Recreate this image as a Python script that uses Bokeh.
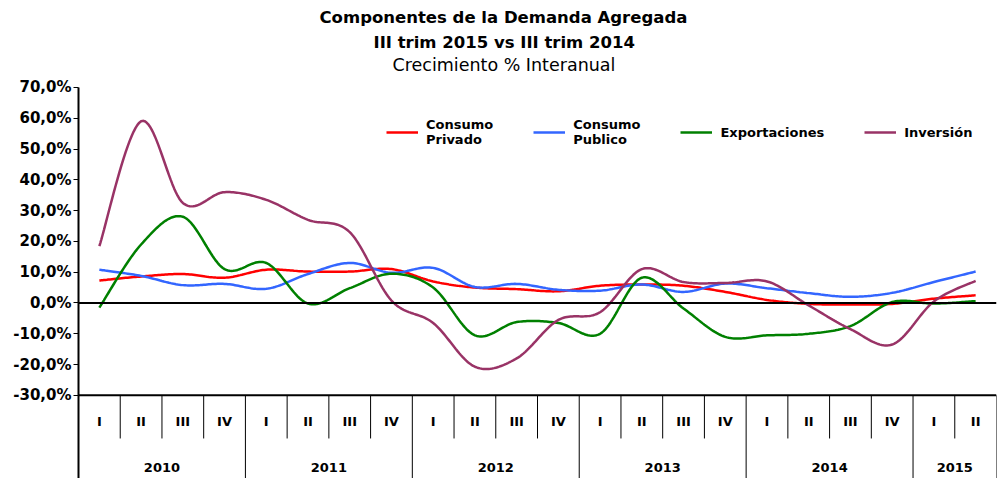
import numpy as np
from bokeh.plotting import figure
from bokeh.models import Range1d, FixedTicker, Title, Legend, LegendItem, Span
from bokeh.core.properties import value
from bokeh.embed import file_html
from bokeh.resources import INLINE

# ---------------- data ----------------
years = ["2010", "2011", "2012", "2013", "2014", "2015"]
quarters_per_year = [4, 4, 4, 4, 4, 2]
quarter_names = ["I", "II", "III", "IV"]

consumo_privado = [7.3, 8.6, 9.4, 8.2, 10.8, 10.2, 10.2, 11.0,
                   7.0, 5.0, 4.5, 3.8, 5.6, 6.0, 5.6, 3.6,
                   1.0, -0.3, -0.5, -0.3, 1.4, 2.5]
consumo_publico = [10.8, 8.8, 5.8, 6.2, 4.6, 9.4, 13.0, 9.8,
                   11.4, 5.2, 6.2, 4.3, 4.0, 6.0, 3.6, 6.3,
                   4.8, 3.2, 2.0, 3.3, 6.8, 10.2]
exportaciones = [-1.5, 19.0, 28.0, 11.0, 13.0, -0.2, 4.8, 9.5,
                 5.0, -10.5, -6.2, -6.5, -10.0, 8.2, -1.8, -11.0,
                 -10.5, -10.0, -7.5, 0.3, -0.2, 0.6]
inversion = [18.5, 59.0, 32.5, 36.0, 33.5, 27.0, 23.0, 0.8,
             -6.5, -20.7, -18.0, -5.5, -3.0, 11.0, 6.8, 6.5,
             7.0, -0.8, -8.5, -13.5, 0.5, 7.2]

series_names = ["Consumo\nPrivado", "Consumo\nPublico", "Exportaciones", "Inversión"]
series_values = [consumo_privado, consumo_publico, exportaciones, inversion]
series_colors = ["#FF0000", "#3366FF", "#008000", "#993366"]

y_ticks = [-30, -20, -10, 0, 10, 20, 30, 40, 50, 60, 70]
y_tick_labels = ["-30,0%", "-20,0%", "-10,0%", "0,0%", "10,0%", "20,0%",
                 "30,0%", "40,0%", "50,0%", "60,0%", "70,0%"]

title_lines = ["Componentes de la Demanda Agregada",
               "III trim  2015 vs III trim 2014",
               "Crecimiento % Interanual"]

FONT = "DejaVu Sans"

# table levels below the value axis (in y units of the frame)
Y_AXIS_BASE = -30
Y_QUARTER_LABEL = -38.5
Y_SHORT_SEP = -44
Y_YEAR_LABEL = -53.3
Y_BOTTOM = -57
Y_AXIS_TOP = 70
Y_FRAME_TOP = 74.2


def smooth(ys, steps=24):
    """Excel-like smoothed line (Catmull-Rom as cubic Bezier)."""
    xs = np.arange(len(ys)) + 0.5
    pts = np.column_stack([xs, np.asarray(ys, dtype=float)])
    n = len(pts)
    out = []
    for i in range(n - 1):
        p0 = pts[i - 1] if i > 0 else pts[i]
        p1 = pts[i]
        p2 = pts[i + 1]
        p3 = pts[i + 2] if i + 2 < n else pts[i + 1]
        c1 = p1 + (p2 - p0) / 6.0
        c2 = p2 - (p3 - p1) / 6.0
        t = np.linspace(0, 1, steps, endpoint=(i == n - 2))[:, None]
        seg = ((1 - t) ** 3) * p1 + 3 * ((1 - t) ** 2) * t * c1 + 3 * (1 - t) * t ** 2 * c2 + t ** 3 * p2
        out.append(seg)
    arr = np.vstack(out)
    return arr[:, 0], arr[:, 1]


n_cat = sum(quarters_per_year)

p = figure(width=997, height=478, output_backend="svg", toolbar_location=None,
           x_range=Range1d(0, n_cat), y_range=Range1d(Y_BOTTOM, Y_FRAME_TOP),
           min_border_left=78, min_border_right=1, min_border_bottom=0, min_border_top=74)

# titles: first added sits closest to the plot, p.title is outermost
p.add_layout(Title(text=title_lines[2], text_font=FONT, text_font_style="normal",
                   text_font_size="17.5px", align="left", standoff=0,
                   offset=314, text_color="black"), "above")
p.add_layout(Title(text=title_lines[1], text_font=FONT, text_font_style="bold",
                   text_font_size="16.5px", align="left", standoff=1,
                   offset=295, text_color="black"), "above")
p.title.text = title_lines[0]
p.title.text_font = FONT
p.title.text_font_style = "bold"
p.title.text_font_size = "16.5px"
p.title.text_color = "black"
p.title.align = "left"
p.title.standoff = 7
p.title.offset = 241

p.outline_line_color = None
p.background_fill_color = "white"
p.border_fill_color = "white"
p.xgrid.visible = False
p.ygrid.visible = False
p.xaxis.visible = False

yax = p.yaxis[0]
yax.ticker = FixedTicker(ticks=y_ticks)
yax.bounds = (Y_BOTTOM, Y_AXIS_TOP)
yax.major_label_overrides = {t: l for t, l in zip(y_ticks, y_tick_labels)}
yax.major_label_text_font = FONT
yax.major_label_text_font_style = "bold"
yax.major_label_text_font_size = "15px"
yax.major_label_text_color = "black"
yax.axis_line_width = 2
yax.axis_line_color = "black"
yax.major_tick_in = 0
yax.major_tick_out = 5
yax.major_tick_line_color = "black"
yax.minor_tick_line_color = None
yax.major_label_standoff = 2

# zero line and base line
p.add_layout(Span(location=0, dimension="width", line_color="black", line_width=2))
p.add_layout(Span(location=Y_AXIS_BASE, dimension="width", line_color="black", line_width=2))

# category table below the chart
q_x, q_lab = [], []
sep_x, sep_y1 = [], []
yr_x = []
pos = 0
for yr, nq in zip(years, quarters_per_year):
    for k in range(nq):
        q_x.append(pos + k + 0.5)
        q_lab.append(quarter_names[k])
        if k > 0:
            sep_x.append(pos + k)
            sep_y1.append(Y_SHORT_SEP)
    yr_x.append(pos + nq / 2.0)
    pos += nq
    sep_x.append(pos)
    sep_y1.append(Y_BOTTOM)

p.segment(x0=sep_x, y0=[Y_AXIS_BASE] * len(sep_x), x1=sep_x, y1=sep_y1,
          line_color="black", line_width=1)
p.text(x=q_x, y=[Y_QUARTER_LABEL] * len(q_x), text=q_lab, text_font=value(FONT),
       text_font_style="bold", text_font_size="13px", text_align="center",
       text_baseline="middle", text_color="black")
p.text(x=yr_x, y=[Y_YEAR_LABEL] * len(yr_x), text=years, text_font=value(FONT),
       text_font_style="bold", text_font_size="13px", text_align="center",
       text_baseline="middle", text_color="black")

items = []
for name, vals, col in zip(series_names, series_values, series_colors):
    sx, sy = smooth(vals)
    r = p.line(sx, sy, line_color=col, line_width=2.5)
    items.append(LegendItem(label=name, renderers=[r]))

legend = Legend(items=items, orientation="horizontal", location=(308, 331),
                label_text_font=FONT, label_text_font_style="bold",
                label_text_font_size="13px", label_text_color="black",
                glyph_width=32, glyph_height=14, label_standoff=8, spacing=40,
                padding=0, margin=0, border_line_alpha=0, background_fill_alpha=0)
p.add_layout(legend)

open("out.html", "w").write(file_html(p, INLINE))
